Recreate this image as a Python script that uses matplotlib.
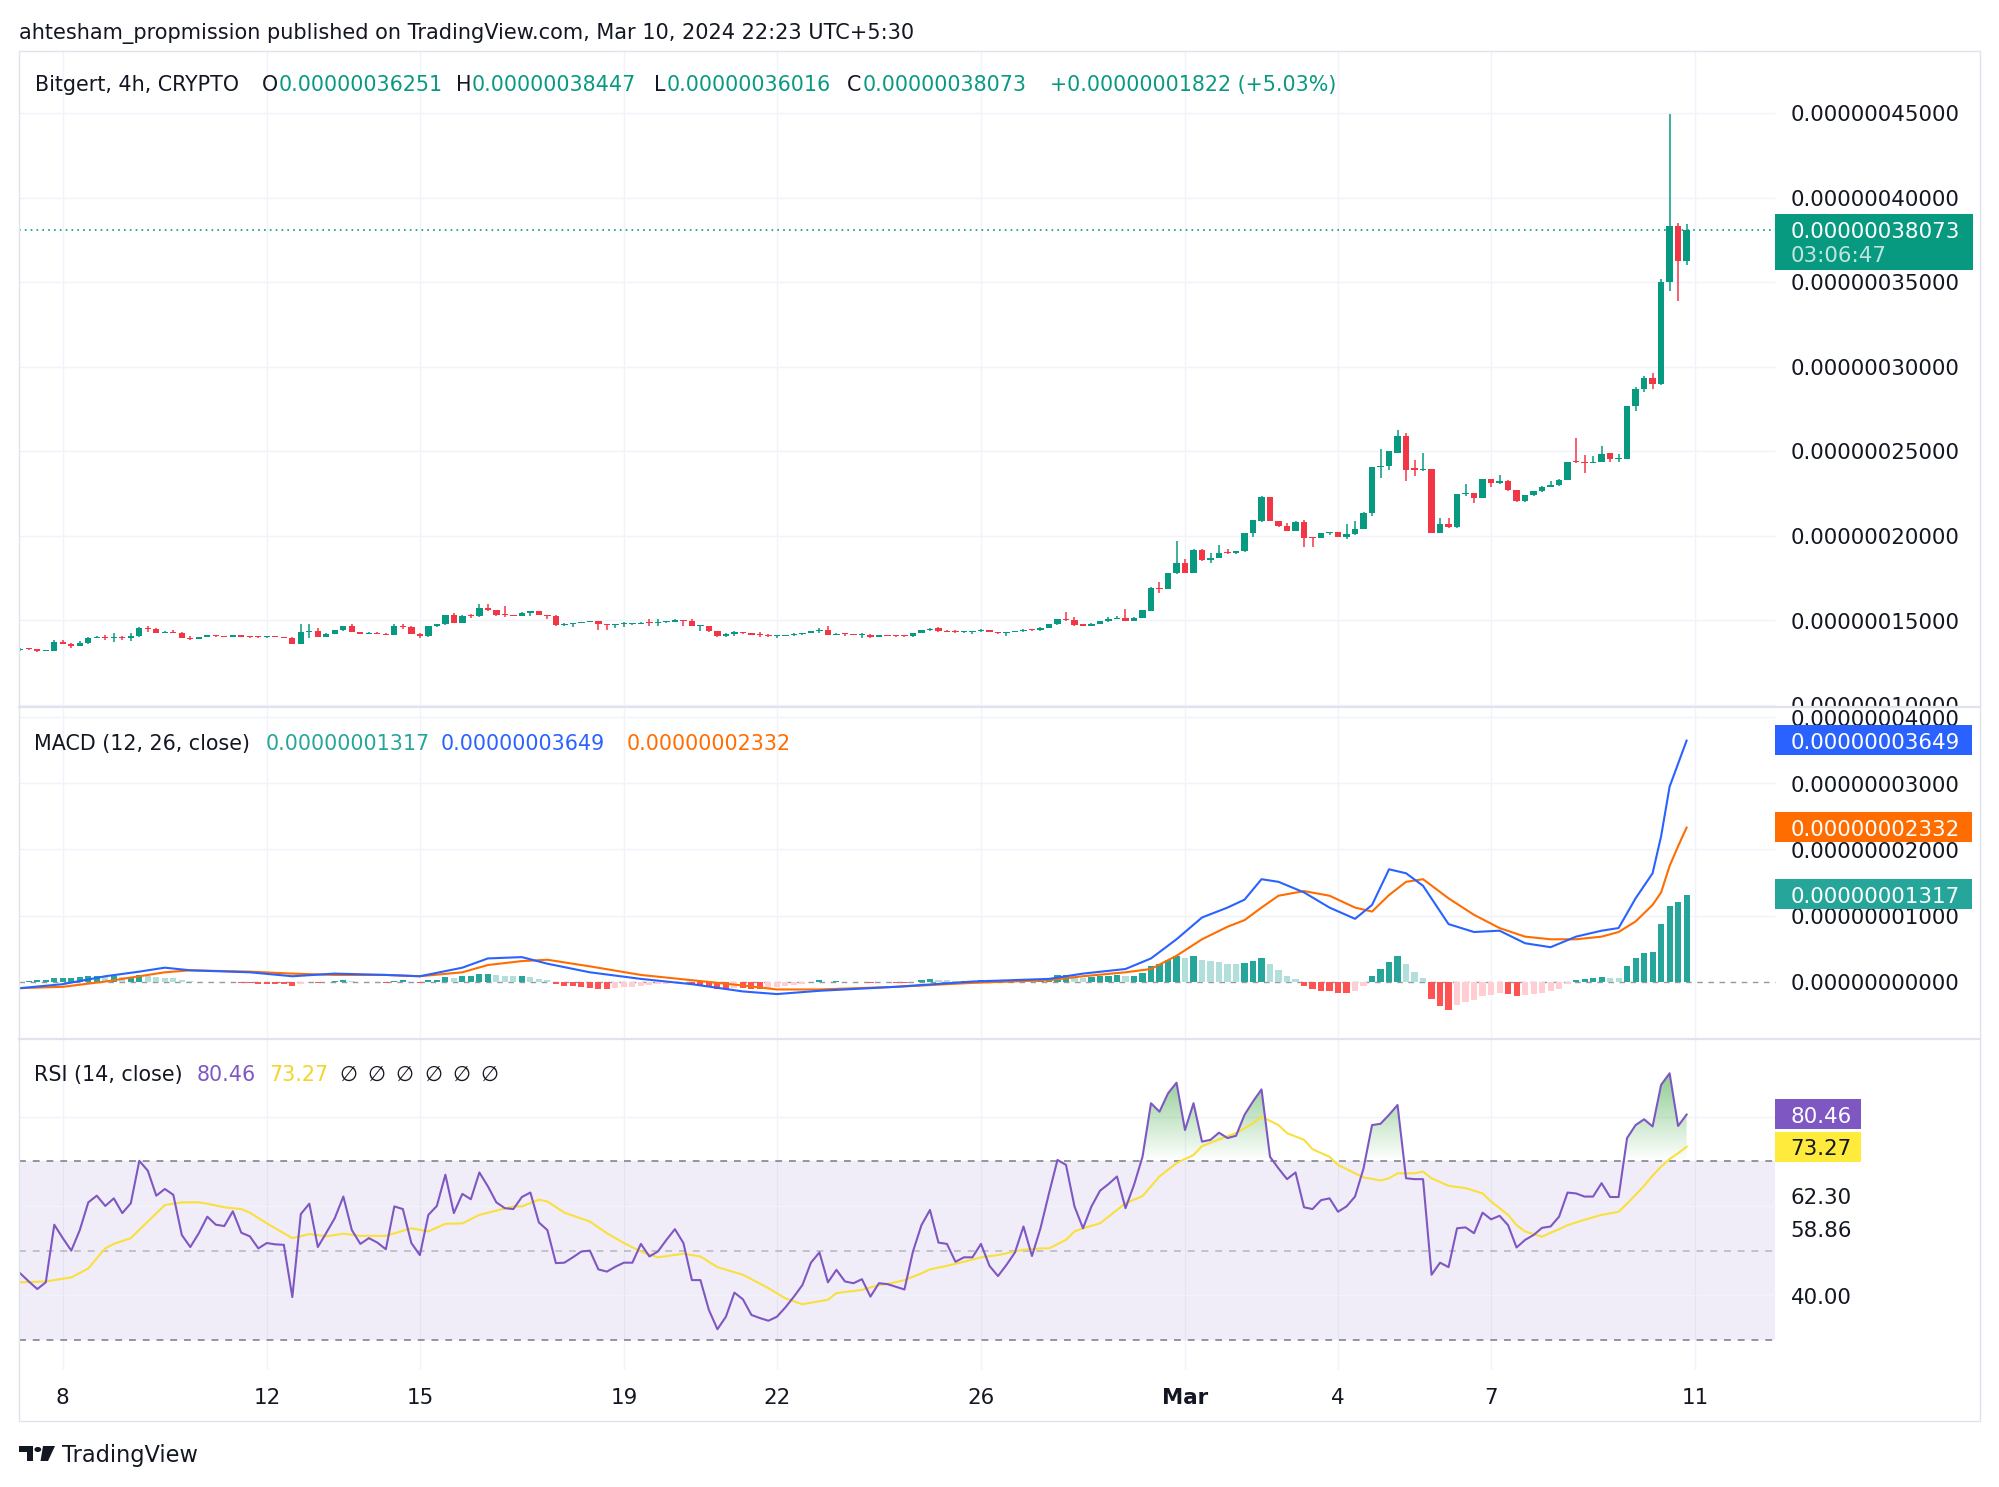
import numpy as np
import matplotlib
matplotlib.use('Agg')
import matplotlib.pyplot as plt
from matplotlib.patches import Rectangle, PathPatch, Circle, Polygon
from matplotlib.lines import Line2D
from matplotlib.path import Path
from matplotlib.colors import LinearSegmentedColormap

plt.rcParams['font.family'] = ['DejaVu Sans']

# ---------------- data (prices and MACD in units of 1e-9) ----------------
opens = [
    132.5, 133.3, 132.8, 131.8, 132.0, 137.0, 136.0, 135.0, 136.5, 139.5,
    140.0, 139.5, 140.0, 139.5, 140.5, 145.5, 145.0, 142.5, 143.0, 142.5,
    139.5, 139.0, 140.0, 141.0, 140.5, 140.3, 141.0, 140.3, 140.0, 139.8,
    140.3, 140.0, 139.6, 136.0, 143.0, 143.5, 140.0, 142.0, 144.0, 146.5,
    143.0, 142.0, 142.5, 142.0, 141.5, 146.5, 146.0, 142.0, 140.5, 146.5,
    147.5, 153.0, 148.6, 152.6, 152.3, 157.5, 156.0, 153.0, 152.8, 152.5,
    154.5, 155.3, 153.0, 152.5, 147.0, 148.0, 148.3, 149.0, 149.3, 147.5,
    147.0, 147.5, 147.6, 147.8, 148.6, 148.4, 148.8, 149.0, 150.2, 149.8,
    146.5, 146.6, 143.5, 140.5, 142.0, 143.0, 142.5, 141.5, 141.0, 140.5,
    140.8, 141.3, 142.0, 142.5, 143.5, 144.0, 141.5, 142.0, 141.8, 141.2,
    141.5, 140.0, 141.0, 140.8, 140.6, 140.5, 142.5, 144.0, 145.5, 143.5,
    143.0, 142.9, 143.3, 143.4, 144.0, 143.0, 142.3, 143.0, 143.5, 144.5,
    144.0, 145.5, 147.5, 150.5, 150.0, 147.5, 146.5, 148.0, 149.5, 151.0,
    151.3, 149.5, 151.5, 155.5, 169.0, 168.5, 177.7, 183.6, 178.0, 191.8,
    185.5, 187.0, 190.0, 189.8, 190.8, 201.3, 208.5, 222.8, 208.6, 205.6,
    203.0, 208.0, 198.8, 198.7, 201.3, 202.0, 199.2, 200.7, 204.0, 213.5,
    240.5, 241.1, 249.0, 259.2, 240.0, 239.0, 239.5, 201.7, 207.2, 205.0,
    224.4, 225.3, 222.4, 233.6, 231.3, 232.5, 227.0, 220.4, 223.8, 226.3,
    228.9, 229.7, 233.2, 244.0, 243.5, 243.2, 243.5, 249.0, 245.4, 245.5,
    276.6, 287.0, 293.0, 290.0, 350.0, 383.0, 362.51]
highs = [
    133.5, 133.6, 133.0, 132.3, 138.0, 138.2, 136.4, 137.5, 139.8, 140.5,
    141.5, 142.5, 140.4, 142.5, 146.0, 146.8, 145.3, 143.5, 144.0, 143.0,
    140.8, 140.3, 141.3, 141.2, 140.7, 141.3, 141.3, 140.5, 140.3, 140.5,
    140.5, 140.2, 139.8, 148.0, 148.0, 145.5, 142.3, 144.3, 146.8, 147.5,
    143.3, 142.8, 142.8, 142.2, 147.5, 148.0, 146.3, 142.3, 146.8, 148.0,
    153.3, 154.2, 152.9, 153.4, 159.5, 159.8, 156.3, 158.5, 153.2, 154.8,
    155.5, 155.6, 153.3, 152.8, 148.3, 148.6, 149.2, 149.5, 149.6, 147.7,
    147.8, 149.0, 148.0, 148.8, 150.7, 150.7, 149.3, 150.5, 150.4, 150.8,
    146.8, 146.8, 143.7, 142.3, 143.8, 143.3, 142.7, 143.0, 142.0, 141.0,
    141.5, 142.2, 142.7, 143.7, 145.5, 146.5, 142.3, 142.3, 142.0, 142.2,
    141.7, 141.2, 141.3, 141.0, 141.3, 142.7, 144.2, 145.3, 145.8, 144.2,
    144.0, 143.5, 143.6, 144.6, 144.2, 143.2, 143.3, 143.8, 144.7, 144.8,
    145.8, 147.8, 150.8, 155.0, 152.0, 147.8, 148.3, 149.8, 152.0, 152.3,
    156.8, 151.8, 156.3, 169.5, 172.5, 177.9, 196.8, 186.3, 192.2, 192.2,
    189.5, 194.4, 192.0, 191.2, 201.6, 209.4, 223.2, 223.0, 208.9, 207.5,
    208.6, 209.2, 199.0, 201.6, 202.4, 202.3, 207.2, 208.6, 213.8, 240.8,
    251.0, 250.3, 262.4, 260.8, 245.0, 249.0, 239.7, 210.5, 210.5, 224.6,
    230.3, 225.5, 233.8, 233.8, 235.6, 232.7, 227.2, 224.0, 226.5, 229.1,
    232.2, 233.4, 243.7, 257.8, 248.0, 247.4, 252.9, 249.2, 248.6, 277.0,
    288.0, 294.5, 296.0, 352.0, 449.5, 385.0, 384.47]
lows = [
    132.0, 132.5, 131.3, 131.5, 131.8, 135.8, 133.5, 134.6, 136.2, 139.2,
    138.0, 137.0, 138.5, 137.5, 140.2, 143.0, 142.3, 142.2, 142.3, 139.3,
    138.0, 138.8, 139.8, 140.3, 140.0, 140.0, 140.0, 139.7, 139.6, 139.6,
    139.8, 139.3, 135.8, 135.8, 139.5, 139.8, 139.8, 141.8, 143.8, 142.8,
    141.8, 141.8, 141.8, 141.2, 141.3, 145.0, 141.8, 139.5, 140.3, 146.2,
    147.2, 148.3, 148.3, 151.5, 152.0, 155.7, 152.7, 152.0, 152.2, 152.3,
    152.6, 152.8, 151.0, 146.8, 146.8, 146.0, 148.1, 148.8, 144.3, 144.0,
    145.5, 145.8, 147.4, 147.6, 146.5, 146.6, 148.6, 148.8, 146.5, 146.3,
    143.5, 143.3, 140.3, 140.3, 140.5, 142.0, 141.3, 140.0, 140.3, 139.5,
    140.6, 140.5, 141.2, 142.3, 142.5, 141.3, 141.3, 140.8, 141.0, 139.5,
    139.6, 139.8, 140.5, 140.3, 140.0, 140.3, 142.3, 143.8, 143.3, 142.8,
    142.6, 142.7, 141.8, 142.8, 142.8, 142.1, 140.5, 142.8, 143.3, 143.8,
    143.6, 145.3, 147.3, 149.5, 146.8, 146.3, 146.3, 147.8, 148.8, 150.5,
    149.3, 149.3, 151.3, 155.3, 166.2, 168.3, 177.5, 177.8, 177.8, 185.3,
    183.6, 186.8, 189.0, 189.0, 190.6, 199.5, 208.3, 208.4, 205.4, 202.8,
    202.8, 193.4, 193.4, 198.5, 200.6, 199.0, 198.0, 200.5, 203.8, 211.5,
    234.0, 238.7, 248.8, 232.2, 235.2, 238.5, 201.5, 201.5, 204.8, 204.8,
    223.4, 219.4, 222.2, 228.9, 230.3, 226.7, 220.2, 220.2, 223.6, 226.1,
    228.7, 229.5, 233.0, 243.0, 237.0, 243.0, 243.3, 243.5, 243.5, 245.3,
    274.0, 285.0, 287.0, 289.0, 345.0, 338.6, 360.16]
closes = [
    133.0, 132.8, 131.8, 132.0, 137.0, 136.0, 135.0, 136.5, 139.5, 140.0,
    139.5, 140.0, 139.5, 140.5, 145.5, 145.0, 142.5, 143.0, 142.5, 139.5,
    139.0, 140.0, 141.0, 140.5, 140.3, 141.0, 140.3, 140.0, 139.8, 140.3,
    140.0, 139.6, 136.0, 143.0, 143.5, 140.0, 142.0, 144.0, 146.5, 143.0,
    142.0, 142.5, 142.0, 141.5, 146.5, 146.0, 142.0, 140.5, 146.5, 147.5,
    153.0, 148.6, 152.6, 152.3, 157.5, 156.0, 153.0, 152.8, 152.5, 154.5,
    155.3, 153.0, 152.5, 147.0, 148.0, 148.3, 149.0, 149.3, 147.5, 147.0,
    147.5, 147.6, 147.8, 148.5, 148.4, 148.8, 149.0, 150.2, 149.8, 146.5,
    146.6, 143.5, 140.5, 142.0, 143.0, 142.5, 141.5, 141.0, 140.5, 140.8,
    141.3, 142.0, 142.5, 143.5, 144.0, 141.5, 142.0, 141.8, 141.2, 141.5,
    140.0, 141.0, 140.8, 140.6, 140.5, 142.5, 144.0, 145.0, 143.5, 143.0,
    142.9, 143.3, 143.4, 144.0, 143.0, 142.3, 143.0, 143.5, 144.5, 144.0,
    145.5, 147.5, 150.5, 150.0, 147.0, 146.5, 148.0, 149.5, 151.0, 151.3,
    149.5, 151.5, 156.0, 169.2, 168.5, 177.7, 183.6, 178.0, 191.8, 185.5,
    187.0, 189.9, 189.8, 190.8, 201.3, 209.0, 222.8, 208.6, 205.6, 203.0,
    208.0, 198.8, 198.7, 201.3, 202.0, 199.2, 200.7, 204.0, 213.5, 240.5,
    241.1, 250.0, 259.2, 239.1, 239.0, 239.5, 201.7, 207.2, 205.0, 224.4,
    225.3, 222.4, 233.6, 231.3, 232.5, 226.9, 220.4, 223.8, 226.3, 228.9,
    229.7, 233.2, 243.5, 243.5, 243.2, 243.5, 248.6, 245.4, 245.5, 276.6,
    287.0, 293.0, 290.0, 350.0, 383.0, 362.51, 380.73]

macd_bars = [0, 5, 10, 14, 17, 20, 27, 32, 37, 43, 47, 52, 55, 59, 62, 67, 73, 79,
             85, 89, 94, 103, 112, 121, 125, 130, 133, 136, 139, 142, 144, 146, 148,
             151, 154, 157, 159, 161, 163, 165, 168, 171, 174, 177, 180, 183, 186,
             188, 190, 192, 193, 194, 195, 196]
macd_line = [-1.0, -0.4, 0.8, 1.5, 2.1, 1.7, 1.4, 0.8, 1.2, 1.0, 0.8, 2.1, 3.5, 3.7,
             2.7, 1.4, 0.4, -0.4, -1.5, -1.9, -1.4, -0.8, 0.0, 0.4, 1.2, 1.9, 3.5,
             6.4, 9.7, 11.2, 12.4, 15.5, 15.1, 13.5, 11.2, 9.5, 11.6, 17.0, 16.4,
             14.5, 8.7, 7.5, 7.7, 5.8, 5.2, 6.8, 7.7, 8.1, 12.6, 16.4, 22.0, 29.5,
             33.0, 36.49]
signal_line = [-1.0, -0.8, 0.0, 0.8, 1.4, 1.7, 1.5, 1.2, 1.0, 1.0, 0.8, 1.4, 2.5,
               3.1, 3.3, 2.3, 1.0, 0.2, -0.6, -1.2, -1.2, -0.8, -0.2, 0.2, 0.8, 1.4,
               1.9, 3.9, 6.4, 8.3, 9.3, 11.2, 13.0, 13.7, 13.0, 11.2, 10.6, 13.1,
               15.1, 15.5, 12.6, 10.1, 8.1, 6.8, 6.4, 6.4, 6.8, 7.5, 9.1, 11.6, 13.5,
               17.5, 20.5, 23.32]
hist = [
    0.0, 0.1, 0.2, 0.3, 0.6, 0.6, 0.6, 0.7, 0.9, 0.9,
    0.8, 0.8, 0.7, 0.7, 1.0, 0.9, 0.7, 0.6, 0.5, 0.3,
    0.1, 0.0, 0.0, -0.1, -0.1, -0.1, -0.2, -0.2, -0.3, -0.3,
    -0.3, -0.4, -0.7, -0.3, -0.1, -0.2, 0.0, 0.1, 0.3, 0.1,
    0.0, 0.0, -0.1, -0.2, 0.1, 0.2, 0.0, -0.2, 0.2, 0.3,
    0.7, 0.6, 0.8, 0.8, 1.2, 1.2, 1.0, 0.9, 0.8, 0.8,
    0.7, 0.4, 0.2, -0.4, -0.6, -0.7, -0.9, -1.0, -1.1, -1.1,
    -1.0, -0.9, -0.8, -0.6, -0.5, -0.4, -0.3, -0.1, -0.1, -0.4,
    -0.5, -0.8, -1.1, -1.1, -1.0, -1.0, -1.1, -1.1, -1.0, -0.9,
    -0.7, -0.5, -0.3, 0.0, 0.2, 0.0, 0.1, 0.0, 0.0, 0.0,
    -0.2, -0.1, -0.1, -0.2, -0.2, 0.0, 0.2, 0.4, 0.3, 0.2,
    0.1, 0.1, 0.1, 0.2, 0.1, 0.0, 0.0, 0.1, 0.2, 0.1,
    0.3, 0.6, 1.0, 1.0, 0.8, 0.6, 0.7, 0.8, 0.9, 1.0,
    0.8, 0.9, 1.3, 2.4, 2.6, 3.2, 3.8, 3.5, 3.9, 3.3,
    3.1, 2.9, 2.7, 2.6, 2.8, 3.1, 3.6, 2.6, 1.7, 0.9,
    0.4, -0.6, -1.2, -1.4, -1.5, -1.7, -1.8, -1.5, -0.6, 0.9,
    1.9, 2.9, 3.9, 2.6, 1.5, 0.6, -2.6, -3.7, -4.3, -3.6,
    -3.1, -2.8, -2.2, -2.0, -1.8, -1.9, -2.2, -2.1, -1.9, -1.7,
    -1.5, -1.1, -0.3, 0.2, 0.4, 0.5, 0.7, 0.6, 0.5, 2.4,
    3.5, 4.3, 4.4, 8.7, 11.5, 12.0, 13.17]

rsi = [
    44.9, 43.1, 41.4, 42.9, 55.8, 52.8, 50.0, 54.6, 60.8, 62.3,
    60.0, 61.7, 58.4, 60.6, 70.1, 67.9, 62.3, 63.8, 62.5, 53.5,
    50.8, 53.9, 57.6, 55.8, 55.5, 58.8, 54.0, 53.2, 50.5, 51.7,
    51.4, 51.3, 39.6, 58.2, 60.5, 50.8, 54.0, 57.3, 62.1, 54.6,
    51.5, 52.8, 51.8, 50.3, 59.9, 59.3, 51.7, 49.0, 58.0, 60.0,
    67.0, 58.4, 62.7, 61.5, 67.5, 64.4, 60.8, 59.5, 59.3, 62.0,
    63.0, 56.3, 54.6, 47.2, 47.3, 48.5, 49.8, 50.0, 45.8, 45.3,
    46.4, 47.3, 47.3, 51.5, 48.7, 49.8, 52.4, 54.8, 51.7, 43.4,
    43.4, 36.7, 32.4, 35.2, 40.6, 39.1, 35.6, 34.9, 34.3, 35.2,
    37.3, 39.7, 42.3, 47.3, 49.6, 42.9, 45.7, 43.1, 42.7, 43.6,
    39.7, 42.7, 42.5, 41.9, 41.3, 49.8, 55.7, 59.1, 51.8, 51.5,
    47.5, 48.5, 48.5, 51.5, 46.6, 44.3, 46.8, 49.6, 55.4, 48.8,
    55.0, 62.8, 70.3, 69.2, 59.9, 55.0, 59.9, 63.4, 64.9, 66.6,
    59.5, 64.7, 71.0, 83.0, 81.1, 85.2, 87.6, 77.0, 83.0, 74.4,
    74.8, 76.4, 75.2, 75.7, 80.4, 83.4, 86.1, 71.0, 68.4, 66.0,
    67.5, 59.7, 59.3, 61.3, 61.7, 58.7, 59.9, 62.1, 68.4, 78.1,
    78.4, 80.4, 82.6, 66.2, 66.0, 66.0, 44.6, 47.3, 46.3, 55.0,
    55.2, 53.9, 58.5, 57.0, 57.8, 55.7, 50.7, 52.4, 53.5, 55.1,
    55.4, 57.6, 63.0, 62.8, 62.1, 62.1, 65.1, 62.0, 62.0, 75.2,
    78.1, 79.4, 77.8, 87.1, 89.7, 77.9, 80.46]

ma_bars = [0, 3, 6, 8, 9, 10, 11, 13, 15, 17, 19, 21, 22, 24, 26, 27, 29, 30, 32, 34,
           36, 38, 40, 43, 46, 48, 50, 52, 54, 58, 59, 61, 62, 64, 67, 69, 71, 73, 75, 78,
           80, 82, 85, 88, 90, 92, 95, 96, 99, 101, 102, 104, 106, 107, 109, 111, 113, 115, 118, 120,
           121, 123, 124, 125, 127, 129, 130, 132, 134, 136, 138, 139, 141, 143, 145, 146, 148, 149, 151, 152,
           154, 155, 157, 158, 160, 161, 162, 164, 165, 166, 168, 170, 172, 173, 175, 176, 177, 179, 180, 181,
           182, 184, 186, 188, 189, 191, 192, 193, 194, 195, 196]
ma_vals = [42.9, 43.1, 44.0, 46.0, 48.3, 50.5, 51.5, 52.8, 56.5, 60.2, 60.8, 60.8, 60.5, 59.7, 59.3, 58.5, 56.1, 55.0, 52.8, 53.7,
           53.2, 53.8, 53.3, 53.3, 55.0, 54.3, 56.0, 56.1, 58.0, 59.9, 59.9, 61.4, 61.0, 58.5, 56.5, 53.9, 51.7, 49.8, 48.5, 49.3,
           48.7, 46.3, 44.6, 41.6, 39.3, 38.0, 39.0, 40.5, 41.2, 42.3, 42.5, 43.4, 44.9, 45.8, 46.6, 47.5, 48.5, 49.0, 50.2, 50.5,
           50.5, 52.4, 54.3, 55.0, 56.1, 59.1, 60.6, 62.2, 66.6, 69.6, 71.4, 73.4, 74.9, 76.3, 78.5, 80.0, 78.1, 76.3, 74.8, 72.7,
           71.0, 69.2, 67.3, 66.4, 65.7, 66.2, 67.3, 67.3, 67.7, 66.2, 64.5, 64.0, 62.8, 61.0, 58.0, 55.7, 54.3, 53.1, 54.0, 54.8,
           55.7, 56.9, 58.0, 58.7, 60.5, 64.5, 66.8, 68.8, 70.5, 71.8, 73.27]

tick_bars = [5, 29, 47, 71, 89, 113, 137, 155, 173, 197]
tick_names = ['8', '12', '15', '19', '22', '26', 'Mar', '4', '7', '11']
price_levels = [100, 150, 200, 250, 300, 350, 400, 450]
macd_levels = [0, 10, 20, 30, 40]
rsi_marks = [62.30, 58.86, 40.00]

header = 'ahtesham_propmission published on TradingView.com, Mar 10, 2024 22:23 UTC+5:30'
countdown = '03:06:47'

# ---------------- figure / layout (pixel based) ----------------
W, H = 1999, 1487
fig = plt.figure(figsize=((W + 0.5) / 100, (H + 0.5) / 100), dpi=100)
fig.patch.set_facecolor('white')
rend = fig.canvas.get_renderer()

UP, DOWN = '#089981', '#f23645'
INK = '#131722'
GRID = '#f0f3fa'
EDGE = '#e0e3eb'

L, RP, R = 19, 1775, 1980
PXB = 8.4995
X0 = -0.15
X1 = X0 + (R - L) / PXB
XP = X0 + (RP - L) / PXB
P_TOP, P_BOT = 51, 707.6
M_TOP, M_BOT = 707.6, 1039
R_TOP, R_BOT = 1039, 1370.5
F_BOT = 1421.5


def xd(px):
    return X0 + (px - L) / PXB


def bar_px(i):
    return L + (i - X0) * PXB


def fit(s, width, weight='normal'):
    t = fig.text(0, 0, s, fontsize=20, fontweight=weight)
    w = t.get_window_extent(rend).width
    t.remove()
    return 20 * width / w


def half_cap(size):
    return 0.365 * size * 100 / 72


def ftext(x, yc, s, size, color=INK, weight='normal', ha='left', alpha=1.0):
    fig.text(x / W, 1 - (yc + half_cap(size)) / H, s, fontsize=size, color=color,
             fontweight=weight, ha=ha, va='baseline', alpha=alpha)


def box(x0, y0, x1, y1, color):
    fig.add_artist(Rectangle((x0 / W, 1 - y1 / H), (x1 - x0) / W, (y1 - y0) / H,
                             transform=fig.transFigure, facecolor=color, edgecolor='none'))


def pane(top, bottom, ylo, yhi):
    ax = fig.add_axes([L / W, 1 - bottom / H, (R - L) / W, (bottom - top) / H])
    ax.set_xlim(X0, X1)
    ax.set_ylim(ylo, yhi)
    ax.axis('off')
    return ax


def ypx(ax, v):
    return H - ax.transData.transform((0, v))[1]


ax_size = fit('0.00000045000', 171)
leg_size = fit('0.00000036251', 164)
head_size = fit(header, 894)

axp = pane(P_TOP, P_BOT, 98.46, 486.98)
axm = pane(M_TOP, M_BOT, -8.68, 41.53)
axr = pane(R_TOP, R_BOT, 23.17, 97.41)

for ax in (axp, axm, axr):
    ax.vlines(tick_bars, *ax.get_ylim(), color=GRID, lw=1, zorder=0)

# ---------------- price pane ----------------
x = np.arange(len(closes))
o, h, l, c = (np.array(v) for v in (opens, highs, lows, closes))
ccol = np.where(c >= o, UP, DOWN)
axp.hlines(price_levels, X0, XP, color=GRID, lw=1, zorder=0)
axp.vlines(x, l, h, colors=ccol, lw=1.1, zorder=3)
axp.bar(x, np.maximum(np.abs(c - o), 0.6), bottom=np.minimum(o, c), width=0.74,
        color=ccol, lw=0, zorder=4)
axp.hlines(c[-1], X0, XP, color=UP, lw=1.2, linestyles=(0, (1, 2.5)), zorder=2)
for v in price_levels:
    axp.text(xd(1790), v - half_cap(ax_size) / 1.69, f'{v * 1e-9:.11f}', fontsize=ax_size,
             color=INK, va='baseline', clip_on=True)

yl = ypx(axp, c[-1])
box(RP, yl - 15.3, 1973, yl + 40, UP)
ftext(1790, yl, f'{c[-1] * 1e-9:.11f}', ax_size, color='white')
ftext(1790, yl + 24, countdown, ax_size, color='white', alpha=0.75)

# legend line
ftext(19, 31.7, header, head_size)
ly = 83
ftext(35, ly, 'Bitgert, 4h, CRYPTO', leg_size)
chg = c[-1] - o[-1]
for letter, val, xs in (('O', o[-1], 278.7), ('H', h[-1], 472), ('L', l[-1], 666.5),
                        ('C', c[-1], 862)):
    ftext(xs - 1, ly, letter, leg_size, ha='right')
    ftext(xs, ly, f'{val * 1e-9:.11f}', leg_size, color=UP)
ftext(1049.7, ly, f'+{chg * 1e-9:.11f} (+{chg / o[-1] * 100:.2f}%)', leg_size, color=UP)

# ---------------- MACD pane ----------------
hv = np.array(hist)
hcol = []
for i, v in enumerate(hv):
    prev = hv[i - 1] if i else v
    if v >= 0:
        hcol.append('#26a69a' if v >= prev else '#b2dfdb')
    else:
        hcol.append('#ff5252' if v <= prev else '#ffcdd2')
axm.hlines(macd_levels[1:], X0, XP, color=GRID, lw=1, zorder=0)
axm.hlines(0, X0, XP, color='#9598a1', lw=1, linestyles=(0, (4, 4)), zorder=1)
axm.bar(x, hv, width=0.72, color=hcol, lw=0, zorder=2)
axm.plot(macd_bars, macd_line, color='#2962ff', lw=1.5, zorder=4)
axm.plot(macd_bars, signal_line, color='#ff6d00', lw=1.5, zorder=3)
for v in macd_levels:
    axm.text(xd(1790), v - half_cap(ax_size) / 6.6, f'{v * 1e-9:.11f}', fontsize=ax_size,
             color=INK, va='baseline', clip_on=True)
for val, colr in ((macd_line[-1], '#2962ff'), (signal_line[-1], '#ff6d00'), (hist[-1], '#26a69a')):
    yy = ypx(axm, val)
    box(RP, yy - 15, 1972, yy + 15, colr)
    ftext(1790, yy, f'{val * 1e-9:.11f}', ax_size, color='white')

my = 742.7
ftext(33.5, my, 'MACD (12, 26, close)', leg_size)
ftext(265.6, my, f'{hist[-1] * 1e-9:.11f}', leg_size, color='#26a69a')
ftext(441, my, f'{macd_line[-1] * 1e-9:.11f}', leg_size, color='#2962ff')
ftext(626.3, my, f'{signal_line[-1] * 1e-9:.11f}', leg_size, color='#ff6d00')

# ---------------- RSI pane ----------------
rv = np.array(rsi)
axr.fill_between([X0, XP], 30, 70, color='#7e57c2', alpha=0.1, lw=0, zorder=0.5)
axr.hlines([40, 60, 80], X0, XP, color=GRID, lw=1, zorder=0.6)
axr.hlines([70, 30], X0, XP, color='#787b86', lw=1.1, linestyles=(0, (4.5, 4.5)), zorder=1)
axr.hlines(50, X0, XP, color='#787b86', lw=1.1, alpha=0.5, linestyles=(0, (4.5, 4.5)), zorder=1)

fb = axr.fill_between(x, rv, 70, where=rv > 70, interpolate=True, facecolor='none',
                      edgecolor='none')
paths = fb.get_paths()
if paths:
    clip = PathPatch(Path.make_compound_path(*paths), transform=axr.transData,
                     facecolor='none', edgecolor='none')
    axr.add_patch(clip)
    gcm = LinearSegmentedColormap.from_list('g', [(0.298, 0.686, 0.314, 0.0),
                                                  (0.298, 0.686, 0.314, 0.65)])
    im = axr.imshow(np.linspace(0, 1, 256).reshape(-1, 1), extent=(X0, XP, 70, 90),
                    origin='lower', aspect='auto', cmap=gcm, zorder=2)
    im.set_clip_path(clip)
    axr.set_xlim(X0, X1)
    axr.set_ylim(23.17, 97.41)

axr.plot(x, rv, color='#7e57c2', lw=1.5, zorder=4)
axr.plot(ma_bars, ma_vals, color='#f9e03c', lw=1.5, zorder=3)

prev_y = -100
for v in rsi_marks:
    yy = max(ypx(axr, v), prev_y + 33) if v < 60 and v > 50 else ypx(axr, v)
    ftext(1790, yy, f'{v:.2f}', ax_size)
    prev_y = yy
for val, colr, tc in ((rsi[-1], '#7e57c2', 'white'), (ma_vals[-1], '#ffeb3b', INK)):
    yy = ypx(axr, val)
    box(RP, yy - 15, 1861, yy + 15, colr)
    ftext(1790, yy, f'{val:.2f}', ax_size, color=tc)

ry = 1073.3
ftext(33.5, ry, 'RSI (14, close)', leg_size)
ftext(196.4, ry, f'{rsi[-1]:.2f}', leg_size, color='#7e57c2')
ftext(269, ry, f'{ma_vals[-1]:.2f}', leg_size, color='#f2d52a')
for xs in (339, 367, 395.5, 424, 452, 480):
    ftext(xs, ry, '\u2205', leg_size)

# ---------------- time axis, frame ----------------
for b, name in zip(tick_bars, tick_names):
    ftext(bar_px(b), 1396, name, ax_size, ha='center',
          weight='bold' if name == 'Mar' else 'normal')

for yy in (P_BOT, M_BOT):
    fig.add_artist(Line2D([L / W, R / W], [1 - yy / H] * 2, color=EDGE, lw=1.6))
fig.add_artist(Rectangle((L / W, 1 - F_BOT / H), (R - L) / W, (F_BOT - P_TOP) / H,
                         transform=fig.transFigure, fill=False, edgecolor=EDGE, lw=1))

# TradingView logo
logo = '#131722'
box(19, 1446, 33, 1452, logo)
box(27, 1446, 33, 1461, logo)
fig.add_artist(Circle((37.8 / W, 1 - 1449.5 / H), 3.4 / W, transform=fig.transFigure,
                      facecolor=logo, edgecolor='none'))
fig.add_artist(Polygon([(43 / W, 1 - 1446 / H), (55 / W, 1 - 1446 / H),
                        (48 / W, 1 - 1461 / H), (40.5 / W, 1 - 1461 / H)],
                       closed=True, transform=fig.transFigure, facecolor=logo,
                       edgecolor='none'))
ftext(62, 1453, 'TradingView', fit('TradingView', 136), color=logo)

fig.savefig('out.png', dpi=100, facecolor='white')
